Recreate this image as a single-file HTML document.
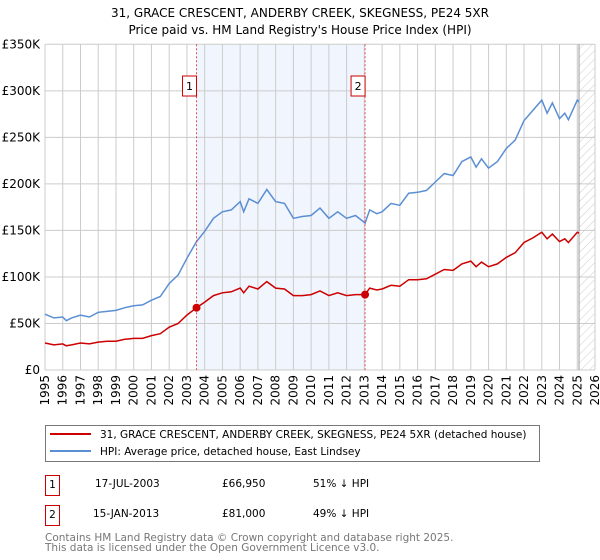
<!DOCTYPE html>
<html><head><meta charset="utf-8"><style>
body{margin:0;background:#fff;width:600px;height:560px;overflow:hidden;font-family:"DejaVu Sans","Liberation Sans",sans-serif;}
svg{display:block;font-family:"DejaVu Sans","Liberation Sans",sans-serif;}
</style></head><body>
<svg id="c" width="600" height="560" xmlns="http://www.w3.org/2000/svg">
<defs><pattern id="hatch" width="6" height="6" patternUnits="userSpaceOnUse" patternTransform="rotate(45)"><line x1="0" y1="0" x2="0" y2="6" stroke="#ccc" stroke-width="1"/></pattern></defs>
<text x="300" y="17" text-anchor="middle" font-size="12" fill="#000">31, GRACE CRESCENT, ANDERBY CREEK, SKEGNESS, PE24 5XR</text>
<text x="300" y="34" text-anchor="middle" font-size="12" fill="#000">Price paid vs. HM Land Registry's House Price Index (HPI)</text>
<g id="grid"></g><g id="marks"></g><g id="axes"></g>
<rect x="45.5" y="425.5" width="494" height="36" fill="#fff" stroke="#777"/>
<line x1="50" y1="434" x2="91" y2="434" stroke="#cc0000" stroke-width="2"/>
<text x="100" y="438" font-size="10.5">31, GRACE CRESCENT, ANDERBY CREEK, SKEGNESS, PE24 5XR (detached house)</text>
<line x1="50" y1="451" x2="91" y2="451" stroke="#5b8fd4" stroke-width="2"/>
<text x="100" y="455" font-size="10.5">HPI: Average price, detached house, East Lindsey</text>
<g font-size="10.5">
<rect x="45.5" y="475.5" width="14" height="20" fill="#fff" stroke="#cc0000"/><text x="52.5" y="488" text-anchor="middle">1</text>
<text x="95" y="487">17-JUL-2003</text><text x="222" y="487">£66,950</text><text x="313" y="487">51% ↓ HPI</text></g>
<g font-size="10.5">
<rect x="45.5" y="505.5" width="14" height="20" fill="#fff" stroke="#cc0000"/><text x="52.5" y="518" text-anchor="middle">2</text>
<text x="93" y="517">15-JAN-2013</text><text x="222" y="517">£81,000</text><text x="313" y="517">49% ↓ HPI</text></g>
<text x="45" y="541" font-size="10.5" fill="#777">Contains HM Land Registry data © Crown copyright and database right 2025.</text>
<text x="45" y="551" font-size="10.5" fill="#777">This data is licensed under the Open Government Licence v3.0.</text>
</svg>
<script>
const yearsT=[1995.0,1995.5,1996.0,1996.2,1996.5,1997.0,1997.5,1998.0,1998.5,1999.0,1999.5,2000.0,2000.5,2001.0,2001.5,2002.0,2002.5,2003.0,2003.54,2004.0,2004.5,2005.0,2005.5,2006.0,2006.2,2006.5,2007.0,2007.5,2008.0,2008.5,2009.0,2009.5,2010.0,2010.5,2011.0,2011.5,2012.0,2012.5,2013.04,2013.3,2013.7,2014.0,2014.5,2015.0,2015.5,2016.0,2016.5,2017.0,2017.5,2018.0,2018.5,2019.0,2019.3,2019.6,2020.0,2020.5,2021.0,2021.5,2022.0,2022.5,2023.0,2023.3,2023.6,2024.0,2024.3,2024.5,2025.0,2025.1];
const hpiK=[60,56,57,53,56,59,57,62,63,64,67,69,70,75,79,93,102,120,138,149,163,170,172,181,170,184,179,194,181,179,163,165,166,174,163,170,163,166,158,172,168,170,179,177,190,191,193,202,211,209,224,229,218,227,217,224,238,247,268,279,290,276,287,270,276,269,290,288];
const priceK=[29,27,28,26,27,29,28,30,31,31,33,34,34,37,39,46,50,59,66.95,73,80,83,84,88,83,90,87,95,88,87,80,80,81,85,80,83,80,81,81,88,86,87,91,90,97,97,98,103,108,107,114,117,111,116,111,114,121,126,137,142,148,141,146,138,141,137,148,147];
const saleYears=[2003.54,2013.04];
const salePrices=[66.95,81];
const saleLabels=["1","2"];
const yTicks=[0,50,100,150,200,250,300,350];
const yTickLabels=["£0","£50K","£100K","£150K","£200K","£250K","£300K","£350K"];
const xYears=[1995,1996,1997,1998,1999,2000,2001,2002,2003,2004,2005,2006,2007,2008,2009,2010,2011,2012,2013,2014,2015,2016,2017,2018,2019,2020,2021,2022,2023,2024,2025,2026];
const dataEnd=2025.1;

const L=45,R=595,T=44.3,B=370,X0=1995,X1=2026,YMAX=350;
const xs=v=>L+(v-X0)/(X1-X0)*(R-L);
const ys=v=>B-v/YMAX*(B-T);
const NS="http://www.w3.org/2000/svg";
function mk(tag,attrs,parent){const e=document.createElementNS(NS,tag);for(const k in attrs)e.setAttribute(k,attrs[k]);parent.appendChild(e);return e;}
const grid=document.getElementById('grid'),marks=document.getElementById('marks'),axes=document.getElementById('axes');

let r=mk('rect',{x:xs(saleYears[0]),y:T,width:xs(saleYears[1])-xs(saleYears[0]),height:B-T,fill:'#eef3fc',opacity:0.8},grid);


r=mk('rect',{x:xs(dataEnd),y:T,width:R-xs(dataEnd),height:B-T,fill:'url(#hatch)'},grid);


xYears.forEach(y=>{const l=mk('line',{x1:xs(y),x2:xs(y),y1:T,y2:B,stroke:'#ccc','stroke-width':1},grid);


const t=mk('text',{x:0,y:0,'font-size':12,'text-anchor':'end',transform:`translate(${xs(y)+4},${B+5}) rotate(-90)`},axes);t.textContent=y;

});
yTicks.forEach((v,i)=>{const l=mk('line',{x1:L,x2:R,y1:ys(v),y2:ys(v),stroke:'#ccc','stroke-width':1},grid);


const t=mk('text',{x:40,y:ys(v)+4,'font-size':12,'text-anchor':'end'},axes);t.textContent=yTickLabels[i];

});
let el=mk('line',{x1:xs(dataEnd),x2:xs(dataEnd),y1:T,y2:B,stroke:'#999','stroke-width':1},grid);



const pts=a=>a.map((v,i)=>xs(yearsT[i]).toFixed(1)+','+ys(v).toFixed(1)).join(' ');
el=mk('polyline',{points:pts(hpiK),fill:'none',stroke:'#5b8fd4','stroke-width':1.5},marks);


el=mk('polyline',{points:pts(priceK),fill:'none',stroke:'#cc0000','stroke-width':1.5},marks);


saleYears.forEach((sy,i)=>{
 const l=mk('line',{x1:xs(sy),x2:xs(sy),y1:T,y2:B,stroke:'#e05050','stroke-width':1,'stroke-dasharray':'2,2'},marks);
 
 
 const c=mk('circle',{cx:xs(sy),cy:ys(salePrices[i]),r:4,fill:'#cc0000'},marks);
 
 
 const b=mk('rect',{x:xs(sy)-14,y:76,width:14,height:20,fill:'#fff',stroke:'#cc0000'},marks);
 
 
 const t=mk('text',{x:xs(sy)-7,y:90,'font-size':11,'text-anchor':'middle'},marks);t.textContent=saleLabels[i];
 
 
});
</script>
</body></html>
